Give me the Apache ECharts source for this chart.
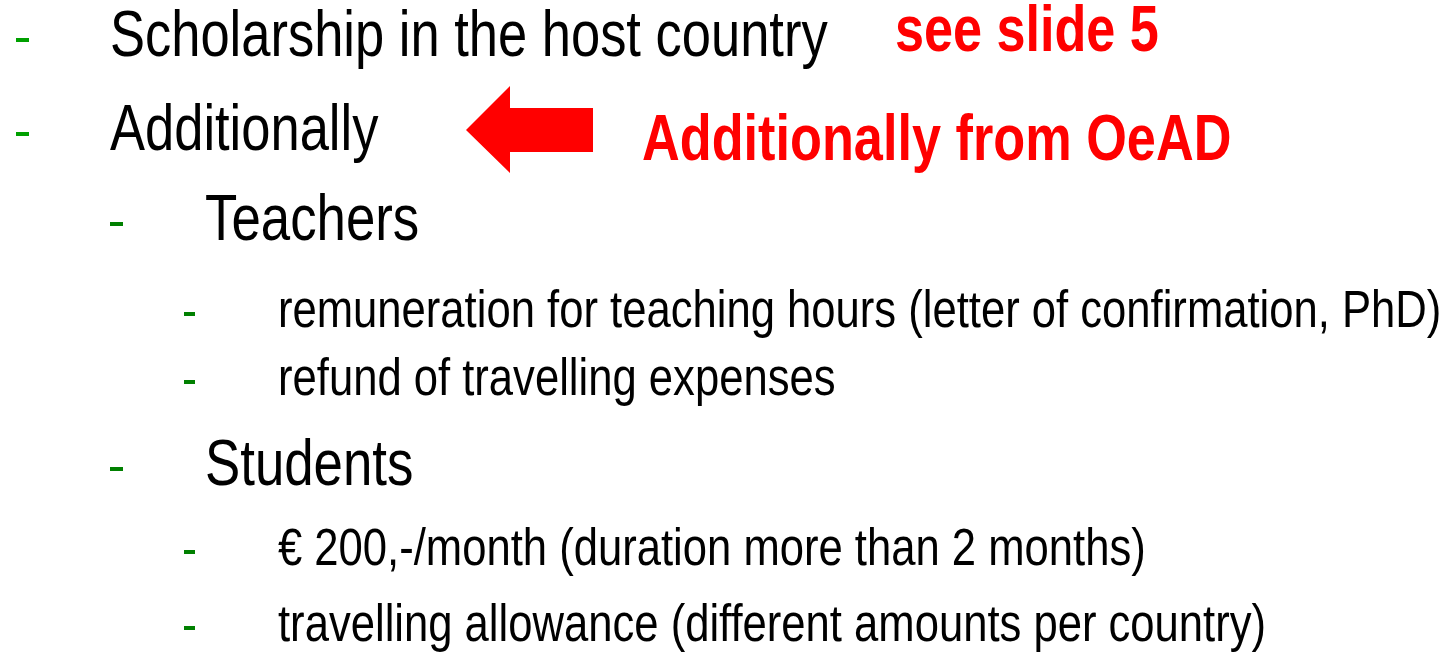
<!DOCTYPE html>
<html>
<head>
<meta charset="utf-8">
<script src="https://cdn.jsdelivr.net/npm/echarts@6/dist/echarts.min.js"></script>
<style>
  html, body { margin: 0; padding: 0; background: #fff; }
  #main { width: 1444px; height: 653px; }
</style>
</head>
<body>
<div id="main"></div>
<script>
// slide content
var lines = [
  'Scholarship in the host country',
  'Additionally',
  'Teachers',
  'remuneration for teaching hours (letter of confirmation, PhD)',
  'refund of travelling expenses',
  'Students',
  '€ 200,-/month (duration more than 2 months)',
  'travelling allowance (different amounts per country)'
];
var levels = [0, 0, 1, 2, 2, 1, 2, 2];
var notes = ['see slide 5', 'Additionally from OeAD'];

// layout
var baselines = [58, 152, 242, 329, 397, 487, 567, 643];
var textX = [110, 205, 278];
var dashX = [16, 110, 184];
var fontSize = [64, 64, 51];
var squeeze = [0.82, 0.825, 0.855]; // narrow face
var dashW = [13, 13, 11];
var dashColor = ['#00a000', '#008000', '#008000'];

var chart = echarts.init(document.getElementById('main'), null, { renderer: 'canvas' });

var els = [];
lines.forEach(function (t, i) {
  var lv = levels[i];
  var fs = fontSize[lv];
  els.push({
    type: 'text',
    x: textX[lv],
    y: baselines[i] - fs * 0.31,
    scaleX: squeeze[lv],
    style: {
      text: t,
      font: fs + 'px "Liberation Sans", Arial, sans-serif',
      fill: '#000',
      align: 'left',
      verticalAlign: 'middle'
    }
  });
  els.push({
    type: 'rect',
    shape: { x: dashX[lv], y: baselines[i] - (lv === 2 ? 17 : 20), width: dashW[lv], height: 4 },
    style: { fill: dashColor[lv] }
  });
});

// red notes
els.push({
  type: 'text', x: 895, y: 53 - 64 * 0.31, scaleX: 0.815,
  style: { text: notes[0], font: 'bold 64px "Liberation Sans", Arial, sans-serif', fill: '#ff0000', verticalAlign: 'middle' }
});
els.push({
  type: 'text', x: 642, y: 162 - 65 * 0.31, scaleX: 0.804,
  style: { text: notes[1], font: 'bold 65px "Liberation Sans", Arial, sans-serif', fill: '#ff0000', verticalAlign: 'middle' }
});

// arrow pointing left
els.push({
  type: 'polygon',
  shape: { points: [[466, 130], [510, 86], [510, 108], [593, 108], [593, 152], [510, 152], [510, 173]] },
  style: { fill: '#ff0000' }
});

chart.setOption({
  backgroundColor: '#fff',
  animation: false,
  graphic: { elements: els }
});
</script>
</body>
</html>
